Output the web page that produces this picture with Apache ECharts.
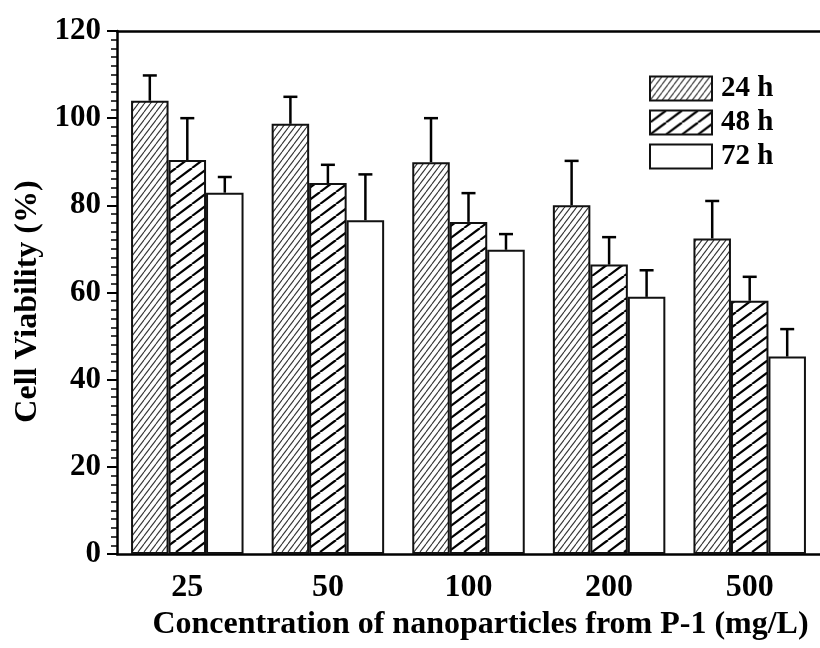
<!DOCTYPE html>
<html>
<head>
<meta charset="utf-8">
<script src="https://cdn.jsdelivr.net/npm/echarts@6/dist/echarts.min.js"></script>
<style>
  html, body { margin: 0; padding: 0; background: #fff; }
  #main { width: 820px; height: 648px; }
</style>
</head>
<body>
<div id="main"></div>
<script>
// data
var concentrations = ['25', '50', '100', '200', '500'];
var viability24 = [104.0, 98.7, 89.9, 80.0, 72.4];
var viability48 = [90.4, 85.1, 76.2, 66.4, 58.1];
var viability72 = [82.9, 76.6, 69.8, 59.0, 45.3];
var err24 = [5.8, 6.2, 10.1, 10.2, 8.6];
var err48 = [9.6, 4.2, 6.6, 6.3, 5.5];
var err72 = [3.6, 10.5, 3.6, 6.1, 6.3];
var seriesNames = ['24 h', '48 h', '72 h'];

var FONT = '"Liberation Serif", "Times New Roman", serif';

// hatch pattern, lines going up to the right
function hatch(w, h, lw, color) {
    var c = document.createElement('canvas');
    c.width = w; c.height = h;
    var ctx = c.getContext('2d');
    ctx.fillStyle = '#fff';
    ctx.fillRect(0, 0, w, h);
    ctx.strokeStyle = color;
    ctx.lineWidth = lw;
    for (var k = -1; k <= 1; k++) {
        ctx.beginPath();
        ctx.moveTo(k * w, h);
        ctx.lineTo(k * w + w, 0);
        ctx.stroke();
    }
    return { image: c, repeat: 'repeat' };
}

var fill24 = hatch(6, 8, 1.1, '#333');
var fill48 = hatch(16, 12, 2.2, '#000');
var fill72 = '#fff';

function errData(vals, errs) {
    return vals.map(function (v, i) { return [i, v, errs[i]]; });
}

// error bar drawn above each bar
function errRender(barIdx) {
    return function (params, api) {
        var i = api.value(0), v = api.value(1), e = api.value(2);
        var base = api.coord([i, v]);
        var top = api.coord([i, v + e]);
        var bw = api.size([1, 0])[0] * 0.8 / 3;
        var cx = base[0] + (barIdx - 1) * bw;
        var st = { stroke: '#000', lineWidth: 2.5 };
        return {
            type: 'group',
            children: [
                { type: 'line', shape: { x1: cx, y1: base[1], x2: cx, y2: top[1] }, style: st },
                { type: 'line', shape: { x1: cx - 7, y1: top[1], x2: cx + 7, y2: top[1] }, style: st }
            ]
        };
    };
}

var myChart = echarts.init(document.getElementById('main'));
var barStyle = function (fill) {
    return { color: fill, borderColor: '#111', borderWidth: 2 };
};

var option = {
    backgroundColor: '#fff',
    animation: false,
    grid: { left: 117, right: 0, top: 31, bottom: 94 },
    legend: {
        orient: 'vertical',
        left: 644,
        top: 69,
        itemWidth: 62,
        itemHeight: 24,
        itemGap: 5,
        icon: 'rect',
        data: seriesNames,
        textStyle: { fontFamily: FONT, fontWeight: 'bold', fontSize: 29, color: '#000', padding: [0, 0, 0, 4] }
    },
    xAxis: [
        {
            type: 'category',
            data: concentrations,
            position: 'bottom',
            name: 'Concentration of nanoparticles from P-1 (mg/L)',
            nameLocation: 'middle',
            nameGap: 52,
            nameTextStyle: { fontFamily: FONT, fontWeight: 'bold', fontSize: 32, color: '#000', padding: [0, 0, 0, 24] },
            axisLine: { lineStyle: { color: '#000', width: 2.5 } },
            axisTick: { alignWithLabel: true, length: 10, lineStyle: { color: '#000', width: 2 } },
            axisLabel: { fontFamily: FONT, fontWeight: 'bold', fontSize: 32, color: '#000', margin: 18 },
            splitLine: { show: false }
        },
        {
            // short ticks between the groups
            type: 'category',
            data: concentrations,
            position: 'bottom',
            axisLine: { show: false },
            axisTick: { length: 6, lineStyle: { color: '#000', width: 2 } },
            axisLabel: { show: false },
            splitLine: { show: false }
        },
        {
            // top frame line
            type: 'category',
            data: concentrations,
            position: 'top',
            axisLine: { lineStyle: { color: '#000', width: 2.5 } },
            axisTick: { show: false },
            axisLabel: { show: false },
            splitLine: { show: false }
        }
    ],
    yAxis: {
        type: 'value',
        min: 0,
        max: 120,
        interval: 20,
        name: 'Cell Viability (%)',
        nameLocation: 'middle',
        nameGap: 72,
        nameTextStyle: { fontFamily: FONT, fontWeight: 'bold', fontSize: 32, color: '#000', padding: [0, 18, 0, 0] },
        axisLine: { show: true, lineStyle: { color: '#000', width: 2.5 } },
        axisTick: { show: true, length: 10, lineStyle: { color: '#000', width: 2 } },
        minorTick: { show: true, splitNumber: 10, length: 6, lineStyle: { color: '#000', width: 1.5 } },
        axisLabel: { fontFamily: FONT, fontWeight: 'bold', fontSize: 31, color: '#000', margin: 16 },
        splitLine: { show: false }
    },
    series: [
        { name: seriesNames[0], type: 'bar', data: viability24, barGap: '0%', barCategoryGap: '20%', itemStyle: barStyle(fill24) },
        { name: seriesNames[1], type: 'bar', data: viability48, barGap: '0%', barCategoryGap: '20%', itemStyle: barStyle(fill48) },
        { name: seriesNames[2], type: 'bar', data: viability72, barGap: '0%', barCategoryGap: '20%', itemStyle: barStyle(fill72) },
        { name: 'err24', type: 'custom', renderItem: errRender(0), data: errData(viability24, err24), z: 5 },
        { name: 'err48', type: 'custom', renderItem: errRender(1), data: errData(viability48, err48), z: 5 },
        { name: 'err72', type: 'custom', renderItem: errRender(2), data: errData(viability72, err72), z: 5 }
    ]
};

myChart.setOption(option);
</script>
</body>
</html>
